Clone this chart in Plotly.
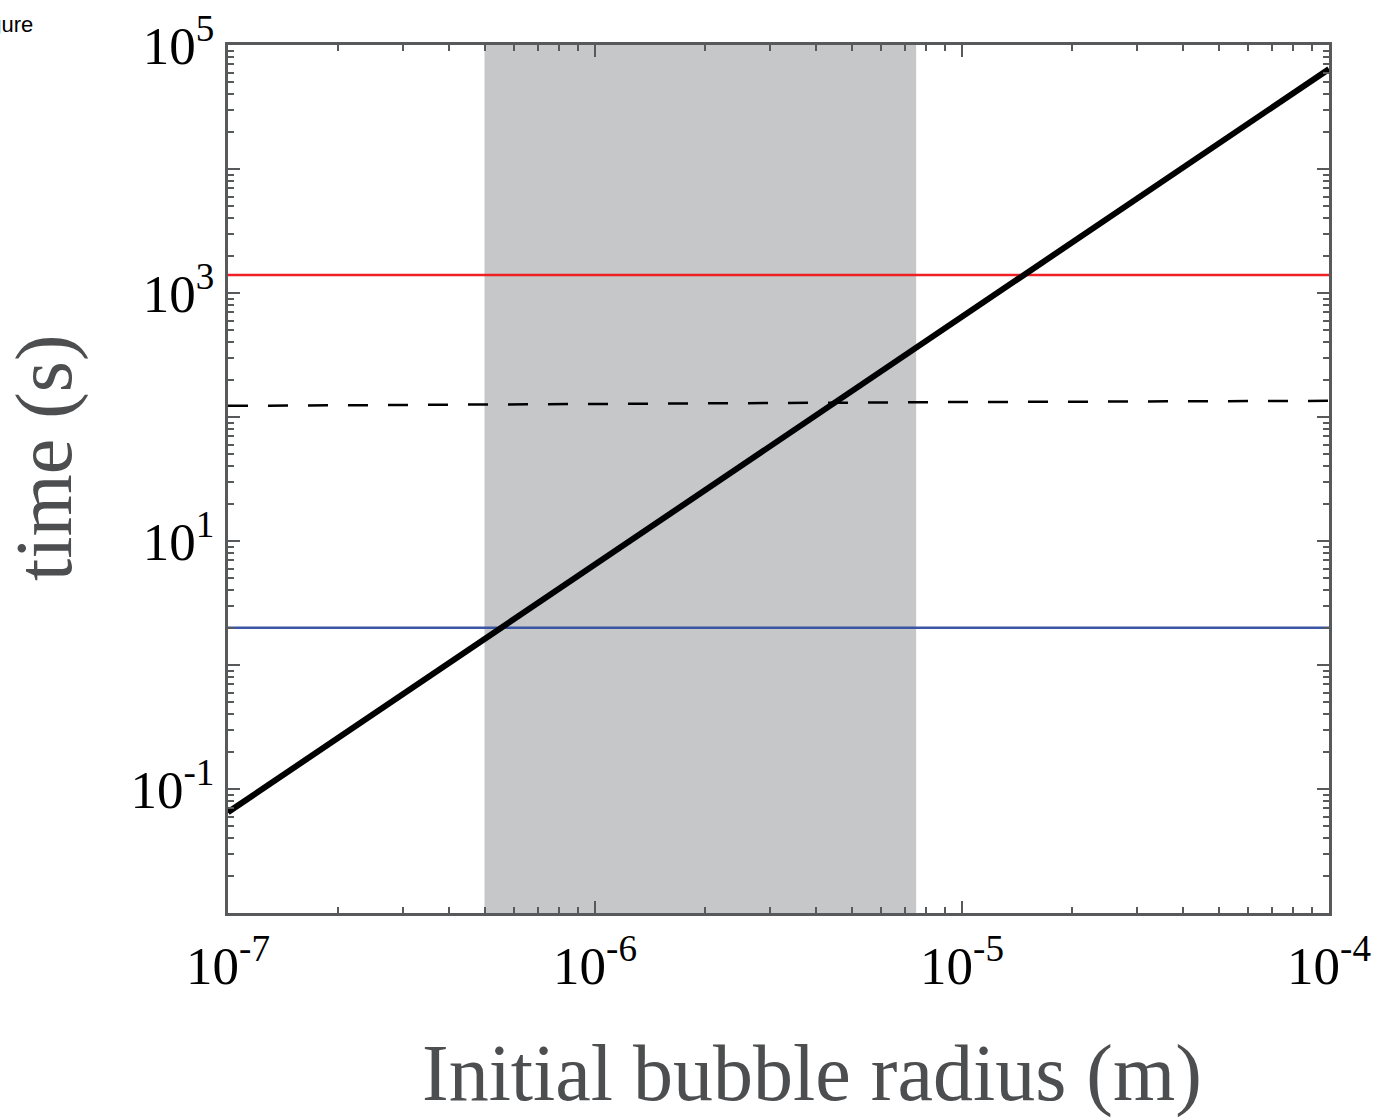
import plotly.graph_objects as go

# ---- data ----
radius = [1e-7, 1e-6, 1e-5, 1e-4]
t_bubble = [0.065, 6.5, 650, 64000]          # thick black line
t_dashed = [123, 128, 132, 135]              # dashed black line
t_red = [1400, 1400, 1400, 1400]
t_blue = [2, 2, 2, 2]
shade_x = [5e-7, 7.5e-6]                     # grey band
y_limits = [1e-2, 1e5]
x_limits = [1e-7, 1e-4]

x_tickvals = [1e-7, 1e-6, 1e-5, 1e-4]
x_ticktext = ["10<sup>-7</sup>", "10<sup>-6</sup>", "10<sup>-5</sup>", "10<sup>-4</sup>"]
y_tickvals = [1e-2, 1e-1, 1e0, 1e1, 1e2, 1e3, 1e4, 1e5]
y_ticktext = ["", "10<sup>-1</sup>", "", "10<sup>1</sup>", "", "10<sup>3</sup>", "", "10<sup>5</sup>"]

x_minor = [m * 10.0 ** e for e in range(-7, -4) for m in range(2, 10)]
y_minor = [m * 10.0 ** e for e in range(-2, 5) for m in range(2, 10)]

# ---- figure ----
W, H = 1374, 1117
L, R, T, B = 228, 45, 45, 204

fig = go.Figure()
fig.add_trace(go.Scatter(
    x=[shade_x[0], shade_x[1], shade_x[1], shade_x[0], shade_x[0]],
    y=[y_limits[0], y_limits[0], y_limits[1], y_limits[1], y_limits[0]],
    fill="toself", fillcolor="#c6c7c9", mode="none", hoverinfo="skip",
    showlegend=False))
fig.add_trace(go.Scatter(x=radius, y=t_red, mode="lines",
                         line=dict(color="#ee2024", width=2.5), showlegend=False))
fig.add_trace(go.Scatter(x=radius, y=t_blue, mode="lines",
                         line=dict(color="#3b55a5", width=2.5), showlegend=False))
fig.add_trace(go.Scatter(x=radius, y=t_dashed, mode="lines",
                         line=dict(color="black", width=2.5, dash="20px,20px"),
                         showlegend=False))
fig.add_trace(go.Scatter(x=radius, y=t_bubble, mode="lines",
                         line=dict(color="black", width=6), showlegend=False))

axis_common = dict(
    type="log", showgrid=False, zeroline=False,
    showline=True, linecolor="#58595b", linewidth=3, mirror="ticks",
    ticks="inside", ticklen=12, tickwidth=1.5, tickcolor="#58595b",
    tickfont=dict(family="Liberation Serif", size=53, color="black"),
)

fig.update_xaxes(**axis_common,
                 range=[-7, -4], tickmode="array", tickvals=x_tickvals, ticktext=x_ticktext,
                 ticklabelstandoff=4,
                 minor=dict(tickmode="array", tickvals=x_minor, ticks="inside",
                            ticklen=6, tickwidth=1.5, tickcolor="#58595b"))
fig.update_yaxes(**axis_common,
                 range=[-2, 5], tickmode="array", tickvals=y_tickvals, ticktext=y_ticktext,
                 ticklabelstandoff=0,
                 minor=dict(tickmode="array", tickvals=y_minor, ticks="inside",
                            ticklen=6, tickwidth=1.5, tickcolor="#58595b"))

pw, ph = W - L - R, H - T - B
def px(xp):
    return (xp - L) / pw
def py(yp):
    return (H - B - yp) / ph

fig.update_layout(
    width=W, height=H,
    margin=dict(l=L, r=R, t=T, b=B, autoexpand=False),
    paper_bgcolor="white", plot_bgcolor="white",
    annotations=[
        dict(text="Initial bubble radius (m)", xref="paper", yref="paper",
             x=px(812), y=py(1073), xanchor="center", yanchor="middle",
             showarrow=False,
             font=dict(family="Liberation Serif", size=80, color="#4d4e50")),
        dict(text="time (s)", xref="paper", yref="paper",
             x=px(44), y=py(458), xanchor="center", yanchor="middle",
             textangle=-90, showarrow=False,
             font=dict(family="Liberation Serif", size=80, color="#4d4e50")),
        dict(text="Figure", xref="paper", yref="paper",
             x=px(35), y=py(25), xanchor="right", yanchor="middle",
             showarrow=False,
             font=dict(family="Liberation Sans", size=22, color="black")),
    ],
)

fig.write_html("out.html")
